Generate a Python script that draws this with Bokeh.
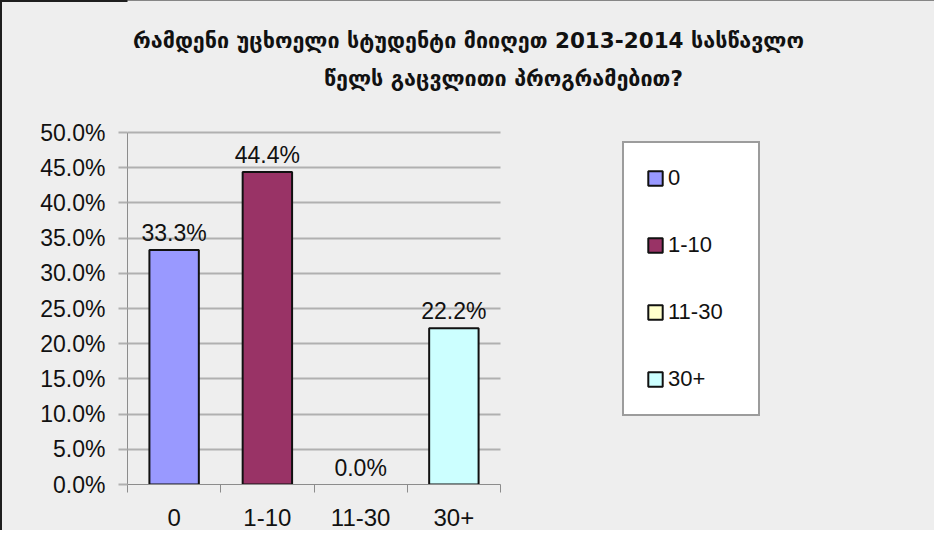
from bokeh.plotting import figure
from bokeh.models import (Range1d, FixedTicker, NumeralTickFormatter, Legend, LegendItem,
                          ColumnDataSource, Label, CDSView, BooleanFilter, Grid)
from bokeh.embed import file_html
from bokeh.resources import INLINE
from bokeh.core.properties import value

# ---- data ----
title_lines = ["რამდენი უცხოელი სტუდენტი მიიღეთ 2013-2014 სასწავლო",
               "წელს გაცვლითი პროგრამებით?"]
categories = ["0", "1-10", "11-30", "30+"]
shares = [0.333, 0.444, 0.0, 0.222]
colors = ["#9999FF", "#993366", "#FFFFCC", "#CCFFFF"]
y_ticks = [0.0, 0.05, 0.10, 0.15, 0.20, 0.25, 0.30, 0.35, 0.40, 0.45, 0.50]
y_max = 0.5

n = len(categories)
positions = list(range(n))
src = ColumnDataSource(dict(
    x=positions,
    top=shares,
    color=colors,
    cat=categories,
    label=[f"{v * 100:.1f}%" for v in shares],
))

FONT = "Liberation Sans"
GRID = "#B0B0B0"
AXIS = "#8C8C8C"

# layout (pixels)
W, H = 934, 530
LEFT, BOTTOM = 127, 46
PLOT_TOP = 132            # where the 50% line sits
BAR_AREA_W = 373          # pixel width taken by the four categories
FRAME_W = W - LEFT        # frame covers the whole right/top part so that
FRAME_H = H - BOTTOM      # the legend and title annotations are not clipped

p = figure(width=W, height=H,
           x_range=Range1d(-0.5, -0.5 + n * FRAME_W / BAR_AREA_W),
           y_range=Range1d(0, y_max * FRAME_H / (FRAME_H - PLOT_TOP)),
           output_backend="svg", toolbar_location=None,
           min_border_left=LEFT, min_border_right=0,
           min_border_top=0, min_border_bottom=BOTTOM)
p.background_fill_color = "#EEEEEE"
p.border_fill_alpha = 0
p.outline_line_color = None
p.styles = {"background-color": "#EEEEEE",
            "box-shadow": "inset 2px 2px 0 0 #1E1E1E"}

# x axis: labels at category centres, tick marks at category boundaries
xa = p.xaxis[0]
xa.bounds = (-0.5, n - 0.5)
xa.ticker = FixedTicker(ticks=positions,
                        minor_ticks=[i - 0.5 for i in positions] + [positions[-1] + 0.5])
xa.major_label_overrides = {i: c for i, c in enumerate(categories)}
xa.major_tick_out = 0
xa.major_tick_in = 0
xa.minor_tick_out = 8
xa.minor_tick_in = 0
xa.minor_tick_line_color = AXIS
xa.axis_line_color = AXIS
xa.major_label_standoff = 16
xa.major_label_text_font = FONT
xa.major_label_text_font_size = "24px"
xa.major_label_text_color = "#111111"

ya = p.yaxis[0]
ya.bounds = (0, y_max)
ya.ticker = FixedTicker(ticks=y_ticks)
ya.formatter = NumeralTickFormatter(format="0.0%")
ya.major_tick_out = 9
ya.major_tick_in = 0
ya.minor_tick_out = 0
ya.minor_tick_in = 0
ya.major_tick_line_color = GRID
ya.major_tick_line_width = 2
ya.axis_line_color = AXIS
ya.major_label_standoff = 13
ya.major_label_text_font = FONT
ya.major_label_text_font_size = "23px"
ya.major_label_text_color = "#111111"

p.xgrid.visible = False
yg = p.ygrid[0]
yg.ticker = FixedTicker(ticks=y_ticks)
yg.grid_line_color = GRID
yg.grid_line_width = 2
if "cross_bounds" in Grid.properties():
    yg.cross_bounds = (-0.5, n - 0.5)

# bars (zero-height bars are not drawn, as in the original)
p.vbar(x="x", top="top", bottom=0, width=0.53, source=src,
       view=CDSView(filter=BooleanFilter([v > 0 for v in shares])),
       fill_color="color", line_color="#111111", line_width=2)

# legend-only renderer
legend_r = p.vbar(x="x", top="top", bottom=0, width=0.53, source=src,
                  fill_color="color", line_color="#111111", line_width=2,
                  visible=False)

# data labels
p.text(x="x", y="top", text="label", source=src,
       text_align="center", text_baseline="alphabetic", y_offset=-17,
       text_font=value(FONT), text_font_size="23px", text_color="#111111")

legend = Legend(
    items=[LegendItem(label=c, renderers=[legend_r], index=i)
           for i, c in enumerate(categories)],
    location=(495, 68),
    padding=22, spacing=41, margin=0,
    glyph_width=18, glyph_height=18,
    label_height=16, label_width=68, label_standoff=4,
    label_text_font=FONT, label_text_font_size="22px",
    label_text_color="#111111",
    border_line_color="#3A3A3A", border_line_width=2,
    background_fill_color="white", background_fill_alpha=1,
)
p.add_layout(legend)

# two-line title
for line, cx, cy in [(title_lines[0], 468, 40), (title_lines[1], 503, 78)]:
    p.add_layout(Label(x=cx, y=cy, x_units="canvas", y_units="canvas",
                       text=line, text_align="center", text_baseline="middle",
                       text_font="DejaVu Sans", text_font_style="bold",
                       text_font_size="21.5px", text_color="#111111"))

open("out.html", "w").write(file_html(p, INLINE, title="chart"))
